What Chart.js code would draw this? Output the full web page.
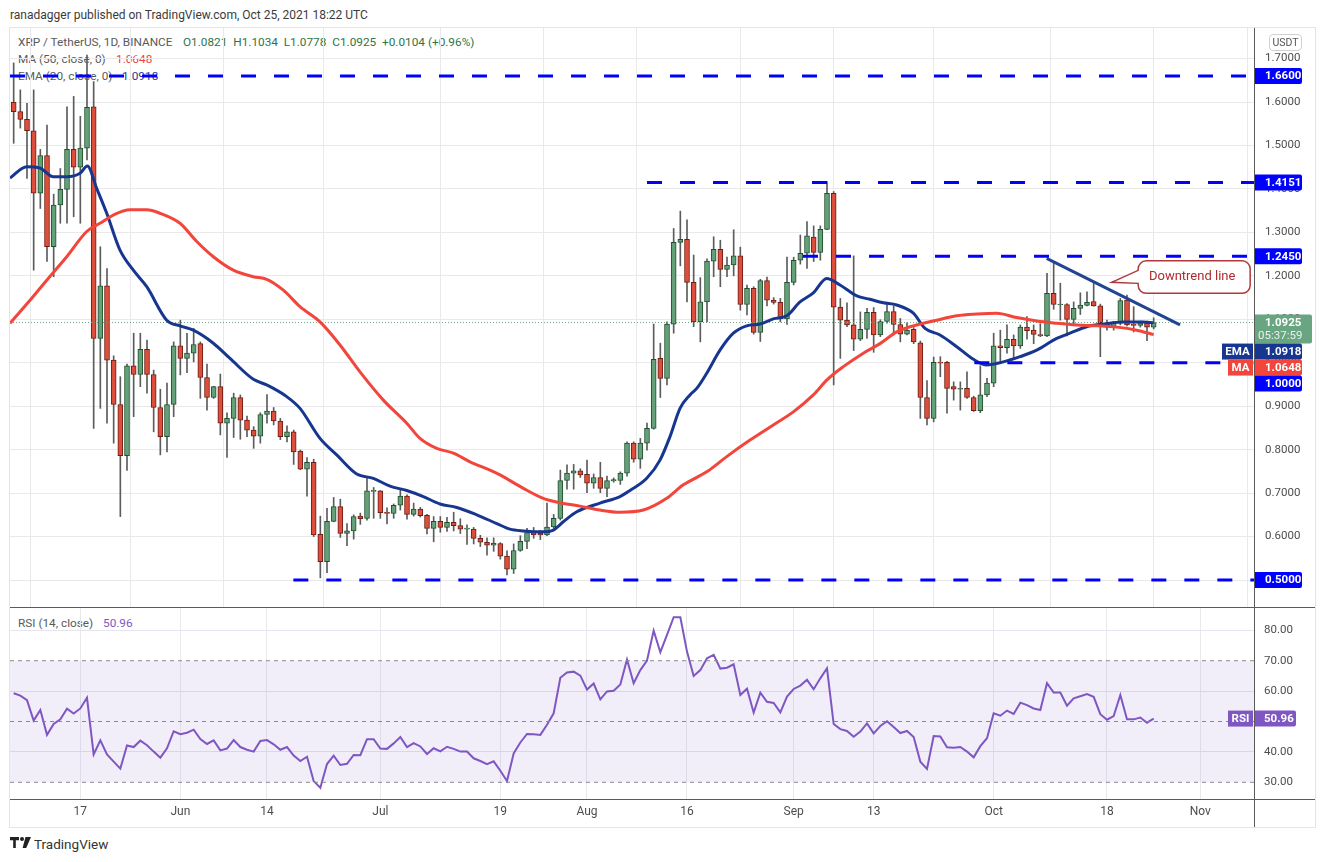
<!DOCTYPE html>
<html>
<head>
<meta charset="utf-8">
<script src="https://cdn.jsdelivr.net/npm/chart.js@4.4.1/dist/chart.umd.min.js"></script>
<style>
html,body{margin:0;padding:0;background:#fff;}
body{width:1326px;height:862px;position:relative;overflow:hidden;font-family:Roboto,"Liberation Sans",sans-serif;color:#333;}
.abs{position:absolute;white-space:pre;line-height:14px;}
.lg{font-size:11.8px;}
#frame{position:absolute;left:9px;top:27px;width:1305px;height:799px;border:1px solid #e3e5ea;}
canvas{position:absolute;z-index:2;}
#priceCv{left:10px;top:28px;}
#rsiCv{left:10px;top:607px;}
.hl{position:absolute;height:1px;background:#5a5a5a;z-index:3;}
.vl{position:absolute;width:1px;background:#5a5a5a;z-index:3;}
#usdt{position:absolute;left:1269px;top:34px;width:31px;height:15px;border:1px solid #cfd1d6;border-radius:4px;font-size:10.5px;line-height:15px;text-align:center;color:#555;z-index:3;}
</style>
</head>
<body>

<div class="abs" style="left:10px;top:8px;font-size:12px;color:#3b3b3b;">ranadagger published on TradingView.com, Oct 25, 2021 18:22 UTC</div>
<div id="frame"></div>

<div class="abs lg" style="left:18px;top:35px;color:#5a5a5a;">XRP / TetherUS, 1D, BINANCE</div>
<div class="abs lg" id="ohlc" style="left:183px;top:35px;color:#2f7449;"></div>
<div class="abs lg" style="left:18px;top:52px;color:#5a5a5a;">MA (50, close, 0)</div>
<div class="abs lg" id="maTxt" style="left:116px;top:52px;color:#f0433a;"></div>
<div class="abs lg" style="left:18px;top:69px;color:#5a5a5a;">EMA (20, close, 0)</div>
<div class="abs lg" id="emaTxt" style="left:122px;top:69px;color:#1d3d9a;"></div>
<div class="abs lg" style="left:18px;top:616px;color:#5a5a5a;">RSI (14, close)</div>
<div class="abs lg" id="rsiTxt" style="left:103px;top:616px;color:#7e57c2;"></div>

<div id="usdt">USDT</div>

<canvas id="priceCv" width="1305" height="579"></canvas>
<canvas id="rsiCv" width="1305" height="220"></canvas>

<div class="hl" style="left:10px;top:607px;width:1305px;"></div>
<div class="hl" style="left:10px;top:799px;width:1305px;"></div>
<div class="vl" style="left:1254px;top:28px;height:799px;"></div>

<svg style="position:absolute;left:10px;top:837px;" width="22" height="12" viewBox="0 0 22 12">
<path d="M0 0h9v3.2H5.8V11H3.2V3.2H0z" fill="#222"/>
<circle cx="12" cy="2" r="2" fill="#222"/>
<path d="M15.5 0H21L16.2 11H12.6z" fill="#222"/>
</svg>
<div class="abs" style="left:34px;top:836px;font-size:13.5px;line-height:16px;color:#333;">TradingView</div>

<script>
// XRP / USDT daily, index 0 = May 7 2021, index 171 = Oct 25 2021
const opens = [
1.600,1.578,1.560,1.534,1.390,1.477,1.267,1.363,1.399,1.491,
1.450,1.494,1.589,1.056,1.177,1.006,0.904,0.786,0.993,0.973,
1.031,0.973,0.897,0.830,0.904,1.039,1.010,1.022,1.044,0.966,
0.920,0.945,0.861,0.872,0.920,0.868,0.845,0.831,0.881,0.889,
0.866,0.830,0.841,0.797,0.755,0.771,0.605,0.542,0.635,0.669,
0.607,0.613,0.647,0.642,0.704,0.705,0.656,0.653,0.672,0.693,
0.651,0.663,0.649,0.619,0.635,0.621,0.633,0.625,0.617,0.617,
0.596,0.587,0.580,0.584,0.555,0.525,0.568,0.589,0.609,0.608,
0.604,0.622,0.642,0.729,0.746,0.751,0.743,0.723,0.736,0.711,
0.728,0.729,0.746,0.815,0.778,0.815,0.849,1.010,0.964,1.089,
1.277,1.284,1.185,1.094,1.140,1.234,1.261,1.215,1.225,1.246,
1.134,1.171,1.070,1.189,1.144,1.139,1.101,1.185,1.236,1.252,
1.289,1.254,1.307,1.390,1.128,1.098,1.087,1.054,1.077,1.116,
1.064,1.095,1.118,1.088,1.066,1.077,1.046,0.920,0.872,1.001,
1.001,0.945,0.939,0.941,0.920,0.890,0.926,0.953,1.039,1.035,
1.054,1.039,1.082,1.075,1.065,1.062,1.160,1.133,1.134,1.100,
1.125,1.132,1.141,1.131,1.092,1.082,1.091,1.144,1.088,1.086,
1.092,1.0821]
const highs = [
1.690,1.628,1.597,1.628,1.491,1.547,1.388,1.447,1.589,1.613,
1.567,1.708,1.647,1.267,1.217,1.016,0.968,0.997,1.068,1.068,
1.052,0.983,0.939,0.953,1.048,1.098,1.068,1.079,1.048,0.997,
0.946,0.974,0.885,0.930,0.926,0.877,0.853,0.885,0.927,0.897,
0.872,0.855,0.845,0.799,0.782,0.778,0.647,0.665,0.690,0.686,
0.630,0.650,0.654,0.734,0.713,0.706,0.666,0.675,0.707,0.696,
0.677,0.667,0.651,0.646,0.646,0.644,0.656,0.641,0.627,0.621,
0.603,0.597,0.597,0.586,0.567,0.583,0.602,0.619,0.621,0.614,
0.677,0.651,0.753,0.765,0.766,0.756,0.776,0.744,0.771,0.739,
0.735,0.749,0.818,0.818,0.826,0.861,1.089,1.045,1.094,1.309,
1.349,1.329,1.248,1.196,1.239,1.290,1.282,1.243,1.306,1.266,
1.179,1.175,1.192,1.197,1.150,1.148,1.243,1.243,1.294,1.325,
1.315,1.315,1.417,1.394,1.148,1.138,1.246,1.117,1.125,1.127,
1.099,1.133,1.131,1.102,1.092,1.081,1.050,0.959,1.013,1.014,
1.003,0.956,0.956,0.979,0.923,0.993,0.964,1.068,1.075,1.087,
1.064,1.087,1.106,1.087,1.090,1.206,1.230,1.183,1.136,1.140,
1.161,1.163,1.183,1.135,1.098,1.095,1.148,1.156,1.129,1.096,
1.096,1.1034]
const lows = [
1.505,1.540,1.424,1.213,1.355,1.233,1.198,1.321,1.321,1.336,
1.321,1.467,0.849,0.895,0.861,0.815,0.646,0.752,0.876,0.945,
0.930,0.841,0.788,0.795,0.876,0.972,0.977,1.002,0.918,0.891,
0.918,0.834,0.782,0.828,0.824,0.830,0.803,0.815,0.861,0.857,
0.823,0.818,0.766,0.754,0.693,0.600,0.505,0.517,0.634,0.598,
0.579,0.594,0.628,0.638,0.642,0.642,0.629,0.642,0.661,0.640,
0.647,0.645,0.606,0.588,0.610,0.612,0.613,0.607,0.582,0.583,
0.577,0.557,0.566,0.548,0.512,0.515,0.566,0.572,0.596,0.593,
0.602,0.620,0.638,0.709,0.709,0.736,0.701,0.711,0.701,0.692,
0.725,0.720,0.739,0.771,0.757,0.799,0.847,0.920,0.949,1.068,
1.223,1.140,1.083,1.048,1.094,1.198,1.175,1.198,1.200,1.121,
1.110,1.066,1.049,1.131,1.135,1.094,1.088,1.179,1.227,1.217,
1.233,1.236,1.306,0.949,1.010,1.083,1.028,1.051,1.056,1.024,
1.060,1.091,1.064,1.048,1.064,1.044,0.872,0.857,0.864,0.968,
0.884,0.914,0.891,0.918,0.888,0.885,0.922,0.945,1.005,1.022,
1.008,1.033,1.054,1.044,1.060,1.060,1.123,1.098,1.062,1.089,
1.111,1.131,1.130,1.014,1.075,1.075,1.087,1.085,1.071,1.082,
1.051,1.0778]
const closes = [
1.578,1.560,1.534,1.390,1.477,1.267,1.363,1.399,1.491,1.450,
1.494,1.588,1.056,1.177,1.006,0.904,0.786,0.993,0.973,1.031,
0.973,0.897,0.830,0.904,1.039,1.010,1.022,1.042,0.966,0.920,
0.945,0.861,0.872,0.920,0.868,0.845,0.831,0.881,0.889,0.866,
0.830,0.841,0.795,0.755,0.771,0.604,0.542,0.635,0.669,0.607,
0.613,0.646,0.641,0.705,0.706,0.655,0.653,0.672,0.693,0.651,
0.663,0.648,0.619,0.635,0.621,0.633,0.625,0.617,0.618,0.596,
0.587,0.580,0.585,0.555,0.525,0.568,0.589,0.609,0.604,0.604,
0.622,0.642,0.729,0.746,0.751,0.742,0.723,0.736,0.711,0.729,
0.731,0.746,0.815,0.778,0.815,0.849,1.008,0.964,1.089,1.277,
1.284,1.185,1.094,1.140,1.234,1.261,1.215,1.225,1.246,1.134,
1.171,1.070,1.189,1.144,1.139,1.101,1.185,1.236,1.252,1.292,
1.254,1.307,1.390,1.128,1.098,1.087,1.054,1.077,1.116,1.064,
1.095,1.118,1.088,1.066,1.075,1.048,0.920,0.872,1.001,0.999,
0.941,0.939,0.941,0.920,0.890,0.926,0.953,1.039,1.035,1.054,
1.039,1.082,1.074,1.065,1.062,1.160,1.134,1.134,1.100,1.125,
1.133,1.139,1.131,1.092,1.082,1.091,1.143,1.087,1.086,1.092,
1.082,1.0925]

// moving averages (day index, value)
const maIdx = [-0.55,2.9,4.96,7.96,10.96,12.95,14.95,17.45,19.96,21.95,24.95,27.46,29.95,32.95,35.95,37.96,40.45,42.95,45.95,48.95,51.95,55.45,58.96,60.95,63.46,65.95,68.45,71.45,72.95,76.45,79.45,81.95,84.95,87.95,90.95,94.45,97.96,100.45,103.96,106.96,110.45,113.95,116.95,119.95,121.96,124.45,127.45,129.95,132.45,134.95,138.46,141.46,144.45,147.45,150.46,153.46,156.46,159.45,162.45,165.45,168.45,171]
const maVal = [1.091,1.152,1.190,1.244,1.302,1.321,1.340,1.352,1.352,1.344,1.321,1.279,1.244,1.213,1.198,1.192,1.167,1.129,1.094,1.041,0.979,0.914,0.861,0.826,0.803,0.792,0.772,0.753,0.742,0.711,0.688,0.678,0.670,0.661,0.656,0.661,0.688,0.719,0.749,0.784,0.822,0.857,0.887,0.926,0.960,0.991,1.022,1.044,1.071,1.085,1.098,1.108,1.112,1.114,1.104,1.096,1.091,1.087,1.085,1.082,1.075,1.0648]
const emaIdx = [-0.55,1.96,3.96,5.95,7.96,9.96,11.05,12.46,13.96,15.95,17.95,19.96,22.96,24.95,26.95,29.95,32.45,35.95,37.96,40.96,42.95,45.95,48.46,51.46,53.95,56.45,58.96,61.45,63.95,66.46,69.46,72.46,74.45,76.45,79.45,80.95,82.45,84.46,87.95,90.95,92.45,94.96,96.95,98.45,99.95,101.45,102.46,103.96,105.95,107.95,109.96,111.95,113.95,115.96,117.95,119.95,121.96,123.95,126.46,128.45,130.45,132.45,134.95,136.7,138.95,141.46,143.95,145.96,148.45,150.95,153.46,156.46,158.45,160.95,163.45,166.45,169.45,171]
const emaVal = [1.425,1.451,1.448,1.428,1.428,1.436,1.453,1.401,1.344,1.259,1.213,1.175,1.098,1.085,1.075,1.045,1.010,0.962,0.949,0.922,0.895,0.826,0.788,0.744,0.734,0.716,0.706,0.692,0.675,0.667,0.650,0.630,0.617,0.613,0.611,0.615,0.634,0.657,0.677,0.692,0.706,0.734,0.776,0.830,0.895,0.926,0.941,0.976,1.029,1.068,1.085,1.089,1.101,1.108,1.140,1.161,1.194,1.179,1.154,1.146,1.138,1.133,1.114,1.079,1.064,1.037,1.008,0.995,1.002,1.014,1.029,1.056,1.068,1.083,1.089,1.094,1.094,1.0918]

const rsiVals = [
59.3,58.5,57.0,50.3,53.8,45.6,49.2,50.7,54.2,52.6,
54.3,57.8,39.2,43.8,39.2,36.8,34.5,42.1,41.6,43.7,
42.2,40.1,38.1,41.2,46.8,45.8,46.3,47.3,44.2,42.6,
43.8,40.5,41.1,43.9,41.6,40.7,40.1,43.6,43.9,42.5,
40.7,41.6,38.8,37.0,38.4,30.4,28.2,36.0,38.8,35.7,
36.1,39.0,38.9,44.2,44.2,41.1,41.0,42.8,44.9,41.6,
42.9,41.8,39.3,41.2,40.2,41.7,41.0,40.1,40.1,37.9,
37.0,36.0,36.9,33.8,30.4,39.5,43.1,45.9,45.8,45.6,
48.9,52.7,64.4,66.1,66.4,65.1,60.5,62.5,57.3,59.9,
60.1,62.2,70.4,62.6,66.9,70.0,79.9,72.8,78.5,84.3,
84.3,73.0,65.0,66.9,70.8,71.9,67.4,67.7,68.8,58.7,
60.8,52.9,59.5,56.5,56.1,53.0,58.2,60.7,61.8,63.7,
60.6,64.2,67.5,49.2,47.5,46.9,45.0,46.7,49.4,46.1,
48.5,50.1,48.2,46.2,46.9,44.9,36.8,34.4,45.2,45.1,
41.5,41.4,41.6,40.1,38.2,41.9,44.5,52.7,51.9,53.6,
52.5,56.2,55.4,54.3,53.8,62.6,59.5,59.5,55.2,57.6,
58.3,59.0,58.1,52.4,50.6,51.8,58.7,50.7,50.7,51.3,
49.6,50.96]

// horizontal levels and their first day
const levelVals = [1.66, 1.4151, 1.245, 1.0, 0.5]
const levelStart = [-0.55, 95, 118.4, 144.1, 41.95]
// downtrend line
const trendIdx = [154.95, 174.95]
const trendVal = [1.2404, 1.087]
const calloutAt = [164.7, 1.185]

// axes
const dateTicks = [10,25,38,55,73,86,101,117,129,147,164,178]
const dateLabels = ['17','Jun','14','Jul','19','Aug','16','Sep','13','Oct','18','Nov']
const priceTicks = [0.5,0.6,0.7,0.8,0.9,1.0,1.1,1.2,1.3,1.4,1.5,1.6,1.7]
const rsiTicks = [30,40,50,60,70,80]
const xMin = -0.55, xMax = 186.05

const FONT = 'Roboto, "Liberation Sans", sans-serif'
const UP = '#64a078', UP_LINE = '#1f4f2e'
const DOWN = '#dc4f3c', DOWN_LINE = '#6e1c14'
const EMA_COLOR = '#17368f', MA_COLOR = '#f2453b', LEVEL = '#0000ff'
const RSI_COLOR = '#7e57c2'
const last = closes.length - 1

document.getElementById('ohlc').textContent =
  'O' + opens[last].toFixed(4) + '  H' + highs[last].toFixed(4) + '  L' + lows[last].toFixed(4) +
  '  C' + closes[last].toFixed(4) + '  +0.0104 (+0.96%)'
document.getElementById('maTxt').textContent = maVal[maVal.length-1].toFixed(4)
document.getElementById('emaTxt').textContent = emaVal[emaVal.length-1].toFixed(4)
document.getElementById('rsiTxt').textContent = rsiVals[last].toFixed(2)

Chart.defaults.font.family = FONT
Chart.defaults.animation = false

function candleColor(ctx, up, down){
  const i = ctx.dataIndex
  if(i === undefined) return up
  return closes[i] >= opens[i] ? up : down
}

function roundBox(ctx, x, y, w, h, r, color){
  ctx.fillStyle = color
  ctx.beginPath()
  ctx.moveTo(x, y)
  ctx.lineTo(x + w - r, y)
  ctx.arcTo(x + w, y, x + w, y + r, r)
  ctx.lineTo(x + w, y + h - r)
  ctx.arcTo(x + w, y + h, x + w - r, y + h, r)
  ctx.lineTo(x, y + h)
  ctx.closePath()
  ctx.fill()
}

// price boxes on the right axis
const priceBoxes = {
  id: 'priceBoxes',
  afterDraw(chart){
    const {ctx, scales:{y}, chartArea} = chart
    const items = levelVals.map(v => ({v, txt: v.toFixed(4), bg: LEVEL}))
    items.push({v: closes[last], txt: closes[last].toFixed(4), sub: '05:37:59', bg: '#6aa582', w: 58})
    items.push({v: emaVal[emaVal.length-1], txt: emaVal[emaVal.length-1].toFixed(4), bg: EMA_COLOR, tag: 'EMA', tw: 31})
    items.push({v: maVal[maVal.length-1], txt: maVal[maVal.length-1].toFixed(4), bg: MA_COLOR, tag: 'MA', tw: 25})
    items.forEach(it => { it.h = it.sub ? 29 : 16; it.top = y.getPixelForValue(it.v) - 8 })
    items.sort((a, b) => a.top - b.top)
    let prev = -1e9
    items.forEach(it => { if(it.top < prev) it.top = prev; prev = it.top + it.h })
    const ax = chartArea.right
    ctx.save()
    ctx.textBaseline = 'middle'
    items.forEach(it => {
      roundBox(ctx, ax, it.top, it.w || 48, it.h, 2, it.bg)
      ctx.fillStyle = '#fff'
      ctx.font = 'bold 11.5px ' + FONT
      ctx.textAlign = 'left'
      ctx.fillText(it.txt, ax + 11, it.top + 8.5)
      if(it.sub){
        ctx.font = '11.5px ' + FONT
        ctx.fillStyle = 'rgba(255,255,255,0.85)'
        ctx.fillText(it.sub, ax + 4, it.top + 21.5)
      }
      if(it.tag){
        ctx.fillStyle = it.bg
        ctx.fillRect(ax - 1 - it.tw, it.top, it.tw, it.h)
        ctx.fillStyle = '#fff'
        ctx.font = 'bold 11.5px ' + FONT
        ctx.textAlign = 'center'
        ctx.fillText(it.tag, ax - 1 - it.tw / 2, it.top + 8.5)
      }
    })
    ctx.restore()
  }
}

// "Downtrend line" note
const callout = {
  id: 'callout',
  afterDraw(chart){
    const {ctx, scales:{x, y}} = chart
    const tx = x.getPixelForValue(calloutAt[0]), ty = y.getPixelForValue(calloutAt[1])
    const L = tx + 26.5, T = ty - 21.5, W = 112, H = 32.5, r = 8
    const R = L + W, B = T + H
    ctx.save()
    ctx.beginPath()
    ctx.moveTo(L + r, T)
    ctx.lineTo(R - r, T); ctx.arcTo(R, T, R, T + r, r)
    ctx.lineTo(R, B - r); ctx.arcTo(R, B, R - r, B, r)
    ctx.lineTo(L + r, B); ctx.arcTo(L, B, L, B - r, r)
    ctx.lineTo(L, ty + 1)
    ctx.lineTo(tx, ty)
    ctx.lineTo(L, ty - 12)
    ctx.lineTo(L, T + r); ctx.arcTo(L, T, L + r, T, r)
    ctx.closePath()
    ctx.fillStyle = '#fff'
    ctx.fill()
    ctx.strokeStyle = '#b0393d'
    ctx.lineWidth = 1.5
    ctx.stroke()
    ctx.fillStyle = '#b02a2e'
    ctx.font = '13px ' + FONT
    ctx.textAlign = 'center'
    ctx.textBaseline = 'middle'
    ctx.fillText('Downtrend line', L + W / 2 - 2, T + H / 2)
    ctx.restore()
  }
}

const levelSets = levelVals.map((v, i) => ({
  type: 'line',
  data: [{x: levelStart[i], y: v}, {x: xMax, y: v}],
  borderColor: LEVEL, borderWidth: 3, borderDash: [15, 18],
  pointRadius: 0, order: 1
}))

new Chart(document.getElementById('priceCv'), {
  type: 'bar',
  data: {
    datasets: [
      ...levelSets,
      {
        type: 'line',
        data: [{x: xMin, y: closes[last]}, {x: xMax, y: closes[last]}],
        borderColor: '#6aa582', borderWidth: 1, borderDash: [1, 2],
        pointRadius: 0, order: 3
      },
      {
        type: 'line',
        data: trendIdx.map((x, i) => ({x, y: trendVal[i]})),
        borderColor: '#234493', borderWidth: 3, pointRadius: 0, order: 2
      },
      {
        type: 'line',
        data: maIdx.map((x, i) => ({x, y: maVal[i]})),
        borderColor: MA_COLOR, borderWidth: 3, pointRadius: 0,
        cubicInterpolationMode: 'monotone', order: 2
      },
      {
        type: 'line',
        data: emaIdx.map((x, i) => ({x, y: emaVal[i]})),
        borderColor: EMA_COLOR, borderWidth: 3, pointRadius: 0,
        cubicInterpolationMode: 'monotone', order: 2
      },
      {
        type: 'bar',
        data: highs.map((h, i) => ({x: i, y: [lows[i], h]})),
        backgroundColor: '#5c5c5c', barThickness: 1, grouped: false, order: 6
      },
      {
        type: 'bar',
        data: opens.map((o, i) => ({x: i, y: [Math.min(o, closes[i]), Math.max(o, closes[i])]})),
        backgroundColor: ctx => candleColor(ctx, UP, DOWN),
        borderColor: ctx => candleColor(ctx, UP_LINE, DOWN_LINE),
        borderWidth: 1, borderSkipped: false, barThickness: 5, minBarLength: 1,
        grouped: false, order: 5
      }
    ]
  },
  options: {
    responsive: false, devicePixelRatio: 1, animation: false,
    layout: {padding: 0},
    plugins: {legend: {display: false}, tooltip: {enabled: false}},
    scales: {
      x: {
        type: 'linear', min: xMin, max: xMax, offset: false,
        afterBuildTicks: s => { s.ticks = dateTicks.map(v => ({value: v})) },
        ticks: {display: false},
        grid: {color: '#e9e9ec', drawTicks: false},
        border: {display: false},
        afterFit: s => { s.height = 0; s.paddingLeft = 0; s.paddingRight = 0 }
      },
      y: {
        position: 'right', min: 0.4379, max: 1.7704,
        afterBuildTicks: s => { s.ticks = priceTicks.map(v => ({value: v})) },
        ticks: {callback: v => v.toFixed(4), padding: 11, color: '#4d4d4d', font: {size: 11.5}},
        grid: {color: '#e9e9ec', drawTicks: false},
        border: {display: false},
        afterFit: s => { s.width = 61; s.paddingTop = 0; s.paddingBottom = 0 }
      }
    }
  },
  plugins: [callout, priceBoxes]
})

// RSI box on the right axis
const rsiBox = {
  id: 'rsiBox',
  afterDraw(chart){
    const {ctx, scales:{y}, chartArea} = chart
    const v = rsiVals[last]
    const top = y.getPixelForValue(v) - 8
    const ax = chartArea.right
    ctx.save()
    roundBox(ctx, ax, top, 42, 16, 2, RSI_COLOR)
    ctx.fillRect(ax - 26, top, 25, 16)
    ctx.fillStyle = '#fff'
    ctx.font = 'bold 11.5px ' + FONT
    ctx.textBaseline = 'middle'
    ctx.textAlign = 'left'
    ctx.fillText(v.toFixed(2), ax + 10, top + 8.5)
    ctx.textAlign = 'center'
    ctx.fillText('RSI', ax - 13.5, top + 8.5)
    ctx.restore()
  }
}

const bandLine = v => ({
  data: [{x: xMin, y: v}, {x: xMax, y: v}],
  borderColor: '#8b8b93', borderWidth: 1, borderDash: [4, 4], pointRadius: 0
})

new Chart(document.getElementById('rsiCv'), {
  type: 'line',
  data: {
    datasets: [
      Object.assign(bandLine(70), {fill: {value: 30}, backgroundColor: 'rgba(126,87,194,0.1)'}),
      bandLine(50),
      bandLine(30),
      {
        data: rsiVals.map((v, i) => ({x: i, y: v})),
        borderColor: RSI_COLOR, borderWidth: 2, pointRadius: 0, tension: 0
      }
    ]
  },
  options: {
    responsive: false, devicePixelRatio: 1, animation: false,
    layout: {padding: 0},
    plugins: {legend: {display: false}, tooltip: {enabled: false}},
    scales: {
      x: {
        type: 'linear', min: xMin, max: xMax, offset: false,
        afterBuildTicks: s => { s.ticks = dateTicks.map(v => ({value: v})) },
        ticks: {
          callback: v => dateLabels[dateTicks.indexOf(v)],
          padding: 6, color: '#4d4d4d', font: {size: 12}, maxRotation: 0, autoSkip: false
        },
        grid: {color: '#e9e9ec', drawTicks: false},
        border: {display: false},
        afterFit: s => { s.height = 28; s.paddingLeft = 0; s.paddingRight = 0 }
      },
      y: {
        position: 'right', min: 24.51, max: 87.66,
        afterBuildTicks: s => { s.ticks = rsiTicks.map(v => ({value: v})) },
        ticks: {callback: v => v.toFixed(2), padding: 10, color: '#4d4d4d', font: {size: 11.5}},
        grid: {
          color: ctx => (ctx.tick && ctx.tick.value % 20 === 0) ? '#e6e4ec' : 'rgba(0,0,0,0)',
          drawTicks: false
        },
        border: {display: false},
        afterFit: s => { s.width = 61; s.paddingTop = 0; s.paddingBottom = 0 }
      }
    }
  },
  plugins: [rsiBox]
})
</script>
</body>
</html>
